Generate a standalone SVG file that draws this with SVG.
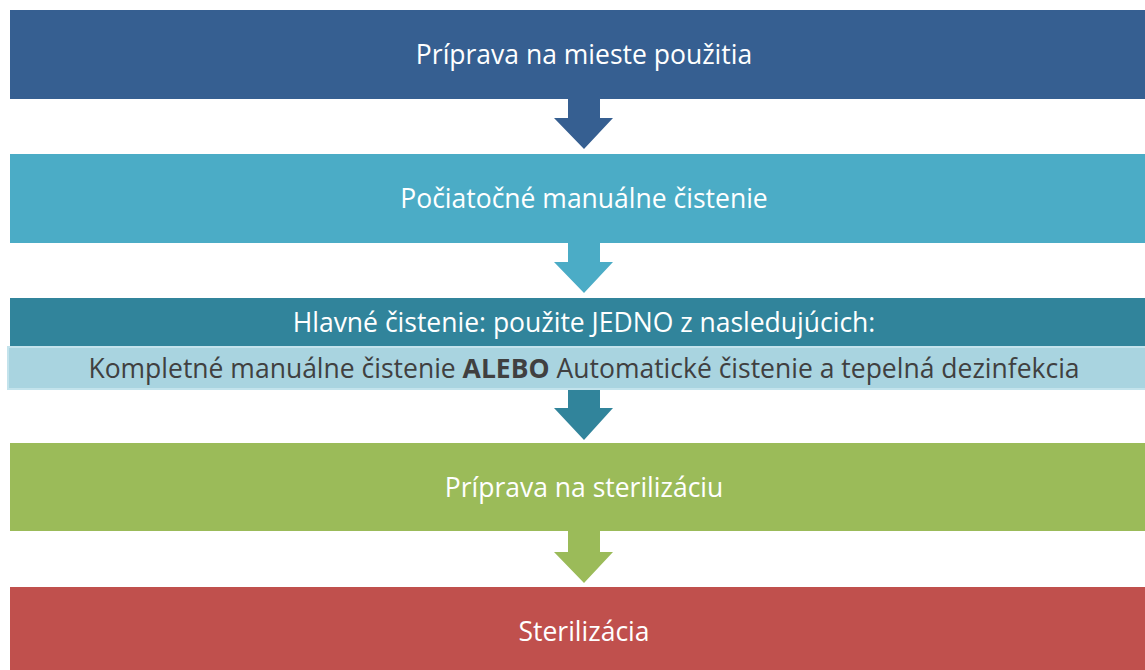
<svg xmlns="http://www.w3.org/2000/svg" width="1145" height="670" viewBox="0 0 1145 670">
<style>
.t{font-family:"Open Sans","Noto Sans",sans-serif;font-size:26.5px;fill:#ffffff;text-anchor:middle}
.d{fill:#404040}
.b{font-weight:bold}
</style>
<rect x="0" y="0" width="1145" height="670" fill="#ffffff"/>
<g id="connectors">
<path d="M568,99 H600 V118 H613 L584,149 L554,118 H568 Z" fill="#365F91"/>
<path d="M568,243 H600 V262 H613 L584,293 L554,262 H568 Z" fill="#4BACC6"/>
<path d="M568,390 H600 V408 H613 L584,440 L554,408 H568 Z" fill="#31849B"/>
<path d="M568,531 H600 V552 H613 L584,583 L554,552 H568 Z" fill="#9BBB59"/>
</g>
<g id="node1">
<rect x="10" y="10" width="1140" height="89" fill="#365F91"/>
<text class="t" x="584" y="64">Príprava na mieste použitia</text>
</g>
<g id="node2">
<rect x="10" y="154" width="1140" height="89" fill="#4BACC6"/>
<text class="t" x="584" y="208">Počiatočné manuálne čistenie</text>
</g>
<g id="node3">
<rect x="10" y="298" width="1140" height="49" fill="#31849B"/>
<text class="t" x="584" y="332">Hlavné čistenie: použite JEDNO z nasledujúcich:</text>
<rect x="8" y="347" width="1140" height="42" fill="#A9D4E0" stroke="#C3E3EC" stroke-width="2"/>
<text class="t d" x="584" y="378">Kompletné manuálne čistenie <tspan class="b">ALEBO</tspan> Automatické čistenie a tepelná dezinfekcia</text>
</g>
<g id="node4">
<rect x="10" y="443" width="1140" height="88" fill="#9BBB59"/>
<text class="t" x="584" y="497">Príprava na sterilizáciu</text>
</g>
<g id="node5">
<rect x="10" y="587" width="1140" height="90" fill="#C0504D"/>
<text class="t" x="584" y="641">Sterilizácia</text>
</g>
</svg>
